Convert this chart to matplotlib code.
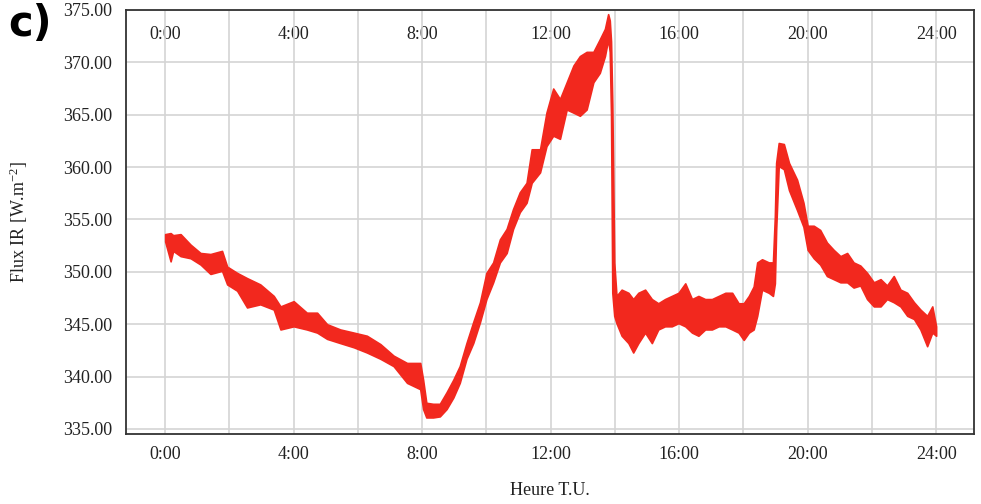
import matplotlib
matplotlib.use("Agg")
import matplotlib.pyplot as plt

plt.rcParams['font.family'] = ['Liberation Serif', 'DejaVu Serif']
plt.rcParams['mathtext.default'] = 'regular'

# hours (T.U.) and upper / lower edge of the noisy IR flux trace, W.m-2
hours = [0.0, 0.17, 0.25, 0.48, 0.79, 1.10, 1.41, 1.77, 1.93, 2.24, 2.55, 2.96,
         3.38, 3.59, 4.00, 4.41, 4.73, 5.04, 5.45, 5.87, 6.28, 6.70, 7.11, 7.53,
         7.94, 8.03, 8.13, 8.34, 8.55, 8.76, 8.97, 9.17, 9.38, 9.59, 9.80, 10.00,
         10.21, 10.42, 10.63, 10.83, 11.04, 11.25, 11.41, 11.67, 11.87, 12.08,
         12.29, 12.50, 12.71, 12.91, 13.12, 13.33, 13.53, 13.69, 13.79, 13.84,
         13.88, 13.92, 13.98, 14.05, 14.21, 14.42, 14.57, 14.73, 14.94, 15.15,
         15.35, 15.56, 15.77, 15.98, 16.19, 16.40, 16.60, 16.81, 17.02, 17.23,
         17.44, 17.65, 17.85, 18.01, 18.17, 18.32, 18.43, 18.58, 18.79, 18.92,
         18.98, 19.02, 19.10, 19.26, 19.42, 19.67, 19.87, 20.00, 20.19, 20.39,
         20.60, 20.81, 21.02, 21.23, 21.43, 21.64, 21.85, 22.06, 22.27, 22.47,
         22.68, 22.89, 23.10, 23.31, 23.51, 23.72, 23.88, 24.00]

flux_hi = [353.6, 353.7, 353.5, 353.6, 352.6, 351.8, 351.7, 352.0, 350.5, 349.9, 349.4, 348.8,
           347.7, 346.7, 347.2, 346.1, 346.1, 345.0, 344.5, 344.2, 343.9, 343.1, 342.0, 341.3,
           341.3, 339.7, 337.5, 337.4, 337.4, 338.5, 339.7, 341.0, 343.2, 345.2, 347.1, 349.9,
           350.9, 353.1, 354.1, 356.0, 357.6, 358.5, 361.7, 361.7, 365.2, 367.5,
           366.5, 368.1, 369.7, 370.6, 371.0, 371.0, 372.2, 373.2, 374.6, 374.0,
           372.0, 366.0, 350.9, 347.7, 348.3, 348.0, 347.4, 348.0, 348.3, 347.4,
           347.0, 347.4, 347.7, 348.0, 348.9, 347.4, 347.7, 347.4, 347.4, 347.7,
           348.0, 348.0, 347.0, 347.0, 347.7, 348.6, 350.9, 351.2, 350.9, 350.9,
           355.3, 360.4, 362.3, 362.2, 360.4, 358.8, 356.6, 354.4, 354.4, 354.0,
           352.8, 352.1, 351.5, 351.8, 350.9, 350.6, 349.9, 349.0, 349.3, 348.7,
           349.6, 348.3, 348.0, 347.1, 346.4, 345.8, 346.7, 344.8]

flux_lo = [352.9, 351.0, 352.0, 351.5, 351.3, 350.7, 349.8, 350.1, 348.8, 348.2, 346.6, 346.9,
           346.4, 344.5, 344.8, 344.5, 344.2, 343.6, 343.2, 342.8, 342.3, 341.7, 341.0, 339.4,
           338.8, 336.9, 336.1, 336.1, 336.2, 336.9, 338.0, 339.4, 341.7, 343.2, 345.2, 347.4,
           349.0, 350.9, 351.8, 354.1, 355.7, 356.6, 358.5, 359.5, 362.0, 363.0,
           362.7, 365.5, 365.2, 364.9, 365.5, 368.1, 369.0, 370.6, 372.2, 371.0,
           365.0, 348.0, 345.8, 345.1, 343.9, 343.2, 342.3, 343.2, 344.2, 343.2,
           344.5, 344.8, 344.8, 345.1, 344.8, 344.2, 343.9, 344.5, 344.5, 344.8,
           344.8, 344.5, 344.2, 343.5, 344.2, 344.5, 345.8, 348.3, 348.0, 347.7,
           348.9, 354.0, 360.1, 359.8, 357.8, 355.9, 354.3, 352.1, 351.3, 350.7,
           349.6, 349.3, 349.0, 349.0, 348.5, 348.7, 347.4, 346.7, 346.7, 347.4,
           347.1, 346.7, 345.8, 345.5, 344.5, 342.9, 344.2, 343.9]

grid_hours = list(range(0, 25, 2))
label_hours = [0, 4, 8, 12, 16, 20, 24]
hour_labels = ["0:00", "4:00", "8:00", "12:00", "16:00", "20:00", "24:00"]
flux_ticks = [335, 340, 345, 350, 355, 360, 365, 370, 375]

fig = plt.figure(figsize=(9.81, 5.04), dpi=100)
ax = fig.add_axes([0.1284, 0.1389, 0.8645, 0.8413])

ax.fill_between(hours, flux_lo, flux_hi, color='#f2281e', edgecolor='#f2281e',
                linewidth=1.2, zorder=3)

ax.set_xlim(-1.22, 25.18)
ax.set_ylim(334.52, 375)

# grid every 2 h, labels every 4 h
ax.set_xticks(grid_hours)
ax.set_xticklabels([hour_labels[label_hours.index(h)] if h in label_hours else ''
                    for h in grid_hours])
ax.set_yticks(flux_ticks)
ax.set_yticklabels(["%.2f" % v for v in flux_ticks])
ax.grid(True, color='#d4d4d4', linewidth=1.2, zorder=0)
ax.tick_params(axis='both', length=0, labelsize=13, colors='#222222')
ax.tick_params(axis='x', pad=9)
ax.tick_params(axis='y', pad=10)

# same hour labels repeated inside the top of the frame
top = ax.secondary_xaxis('top')
top.set_xticks(label_hours)
top.set_xticklabels(hour_labels)
top.tick_params(length=0, pad=-24, labelsize=13, colors='#222222')
top.spines['top'].set_visible(False)

for sp in ax.spines.values():
    sp.set_color('#333333')
    sp.set_linewidth(1.3)

ax.set_xlabel("Heure T.U.", fontsize=13, color='#222222', labelpad=13)
ax.set_ylabel("Flux IR [W.m$^{-2}$]", fontsize=13, color='#222222', labelpad=24)

fig.text(0.008, 0.995, "c)", fontsize=30, fontweight='bold', family='DejaVu Sans',
         ha='left', va='top')

fig.savefig("out.png", dpi=100)
